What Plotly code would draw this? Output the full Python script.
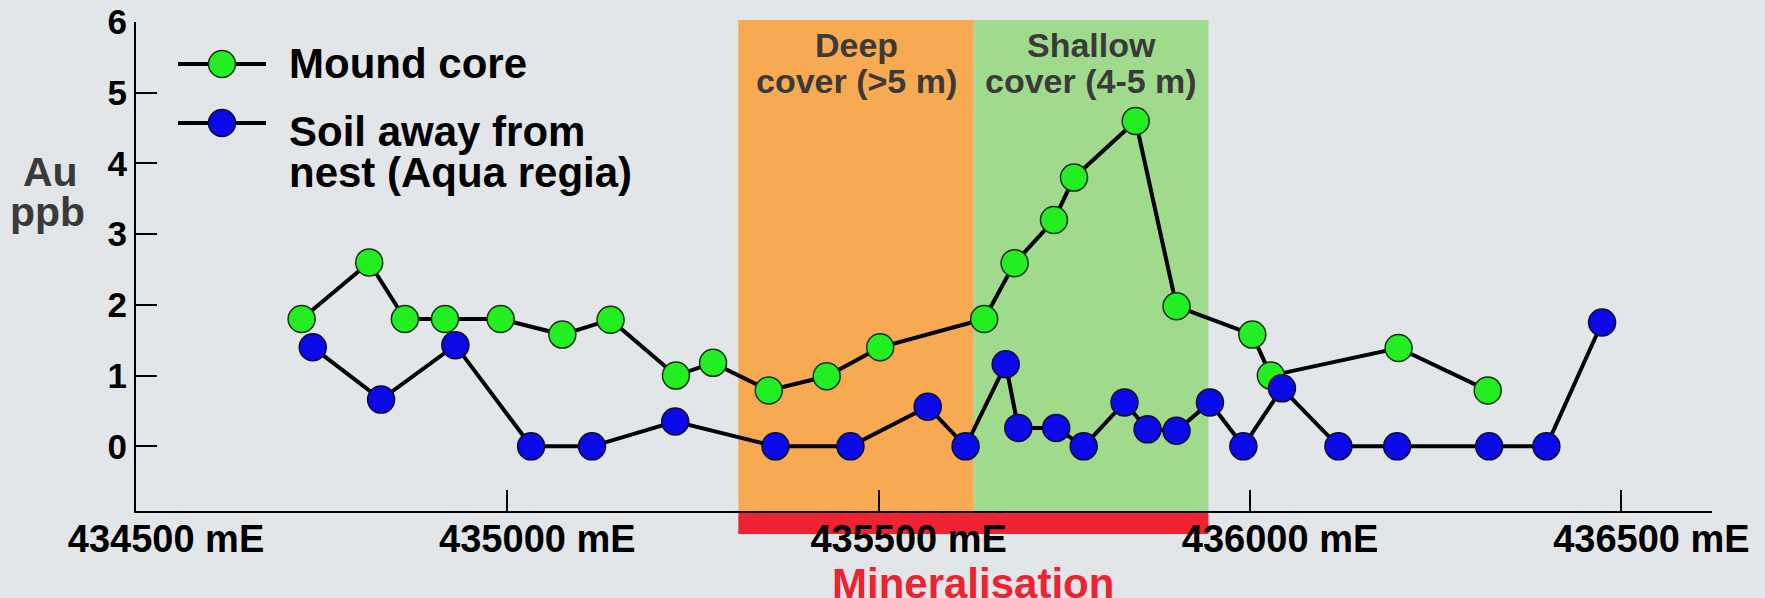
import plotly.graph_objects as go

# ---------------- data ----------------
mound_x = [434723, 434814, 434862, 434916, 434991, 435074, 435139, 435227, 435277, 435352, 435430,
           435502, 435642, 435683, 435736, 435763, 435846, 435901, 436003, 436028, 436200, 436320]
mound_y = [1.8, 2.6, 1.8, 1.8, 1.8, 1.58, 1.79, 1.0, 1.18, 0.79, 0.99,
           1.4, 1.8, 2.59, 3.2, 3.8, 4.6, 1.98, 1.58, 1.0, 1.39, 0.79]

soil_x = [434738, 434830, 434930, 435032, 435114, 435226, 435361, 435462, 435566, 435617, 435671,
          435688, 435739, 435776, 435831, 435862, 435901, 435946, 435991, 436043, 436119, 436198,
          436322, 436399, 436474]
soil_y = [1.4, 0.66, 1.43, 0, 0, 0.35, 0, 0, 0.56, 0, 1.16,
          0.26, 0.26, 0, 0.62, 0.24, 0.22, 0.62, 0, 0.82, 0, 0,
          0, 0, 1.75]

x_tickvals = [434500, 435000, 435500, 436000, 436500]
x_ticktext = ["434500 mE", "435000 mE", "435500 mE", "436000 mE", "436500 mE"]
y_tickvals = [0, 1, 2, 3, 4, 5, 6]

deep_cover = [435311, 435628]
shallow_cover = [435628, 435944]
mineralisation = [435311, 435944]

# ---------------- style ----------------
W, H = 1765, 598
ML, MR, MT, MB = 136, 53, 22, 87
PW, PH = W - ML - MR, H - MT - MB
FONT = "Liberation Sans"
BG = "#E3E6E8"
GREEN = "#22EE22"
BLUE = "#0A0AE8"
ORANGE_BAND = "#F8AA52"
GREEN_BAND = "#A0DA8C"
RED = "#EE2230"
TEXT_GRAY = "#3A3A3A"


def px2paper_x(px):
    return (px - ML) / PW


def px2paper_y(py):
    return (H - MB - py) / PH


fig = go.Figure()

fig.add_trace(go.Scatter(
    x=mound_x, y=mound_y, mode="lines+markers", name="Mound core",
    line=dict(color="black", width=4),
    marker=dict(size=27, color=GREEN, line=dict(color="#153015", width=1.5)),
    showlegend=False, hoverinfo="skip"))
fig.add_trace(go.Scatter(
    x=soil_x, y=soil_y, mode="lines+markers", name="Soil away from nest (Aqua regia)",
    line=dict(color="black", width=4),
    marker=dict(size=27, color=BLUE, line=dict(color="#0A0A30", width=1.5)),
    showlegend=False, hoverinfo="skip"))

shapes = []
# cover bands
shapes.append(dict(type="rect", xref="x", yref="paper", x0=deep_cover[0], x1=deep_cover[1],
                   y0=0, y1=1.004, fillcolor=ORANGE_BAND, line=dict(width=0), layer="below"))
shapes.append(dict(type="rect", xref="x", yref="paper", x0=shallow_cover[0], x1=shallow_cover[1],
                   y0=0, y1=1.004, fillcolor=GREEN_BAND, line=dict(width=0), layer="below"))
# mineralisation bar
shapes.append(dict(type="rect", xref="x", yref="paper", x0=mineralisation[0], x1=mineralisation[1],
                   y0=-23 / PH, y1=-1 / PH, fillcolor=RED, line=dict(width=0), layer="below"))

# manual legend
leg_rows = [(64, GREEN, "#153015"), (123, BLUE, "#0A0A30")]
for py, col, lc in leg_rows:
    shapes.append(dict(type="line", xref="paper", yref="paper",
                       x0=px2paper_x(178), x1=px2paper_x(266), y0=px2paper_y(py), y1=px2paper_y(py),
                       line=dict(color="black", width=4)))
    shapes.append(dict(type="circle", xref="paper", yref="paper", xsizemode="pixel", ysizemode="pixel",
                       xanchor=px2paper_x(222), yanchor=px2paper_y(py), x0=-13.5, x1=13.5, y0=-13.5, y1=13.5,
                       fillcolor=col, line=dict(color=lc, width=1.5)))

ann = []


def text(x, y, s, size, color, xref="paper", xanchor="center"):
    ann.append(dict(x=x, y=y, xref=xref, yref="paper", text=s, showarrow=False,
                    xanchor=xanchor, yanchor="middle",
                    font=dict(family=FONT, size=size, color=color, weight="bold")))


legend_lines = ["Mound core", "Soil away from", "nest (Aqua regia)"]
for s, py in zip(legend_lines, [63, 131, 173]):
    text(px2paper_x(287), px2paper_y(py), s, 42, "black", xanchor="left")

text(sum(deep_cover) / 2, px2paper_y(45), "Deep", 34, TEXT_GRAY, xref="x")
text(sum(deep_cover) / 2, px2paper_y(81), "cover (>5 m)", 34, TEXT_GRAY, xref="x")
text(sum(shallow_cover) / 2, px2paper_y(45), "Shallow", 34, TEXT_GRAY, xref="x")
text(sum(shallow_cover) / 2, px2paper_y(81), "cover (4-5 m)", 34, TEXT_GRAY, xref="x")

text(sum(mineralisation) / 2, px2paper_y(583), "Mineralisation", 42, RED, xref="x")

text(px2paper_x(50), px2paper_y(172), "Au", 41, TEXT_GRAY)
text(px2paper_x(47), px2paper_y(212), "ppb", 41, TEXT_GRAY)

fig.update_layout(
    template="none",
    width=W, height=H, autosize=False,
    margin=dict(l=ML, r=MR, t=MT, b=MB, pad=0, autoexpand=False),
    paper_bgcolor=BG, plot_bgcolor=BG,
    shapes=shapes, annotations=ann,
    showlegend=False, hovermode=False,
)
fig.update_xaxes(
    range=[434500, 436622], tickmode="array", tickvals=x_tickvals, ticktext=x_ticktext,
    showline=True, linecolor="black", linewidth=2, mirror=False, automargin=False,
    ticks="inside", ticklen=21, tickwidth=2, tickcolor="black",
    showgrid=False, zeroline=False, ticklabelshift=30, ticklabelstandoff=-7,
    tickfont=dict(family=FONT, size=38, color="black", weight="bold"))
fig.update_yaxes(
    range=[-0.915, 6], tickmode="array", tickvals=y_tickvals,
    showline=True, linecolor="black", linewidth=2, automargin=False,
    ticks="inside", ticklen=21, tickwidth=2, tickcolor="black",
    showgrid=False, zeroline=False, ticklabelstandoff=0,
    tickfont=dict(family=FONT, size=35, color="black", weight="bold"))

fig.write_html("out.html", config={"displayModeBar": False},
               post_script="document.body.style.margin='0px';document.body.style.overflow='hidden';")
